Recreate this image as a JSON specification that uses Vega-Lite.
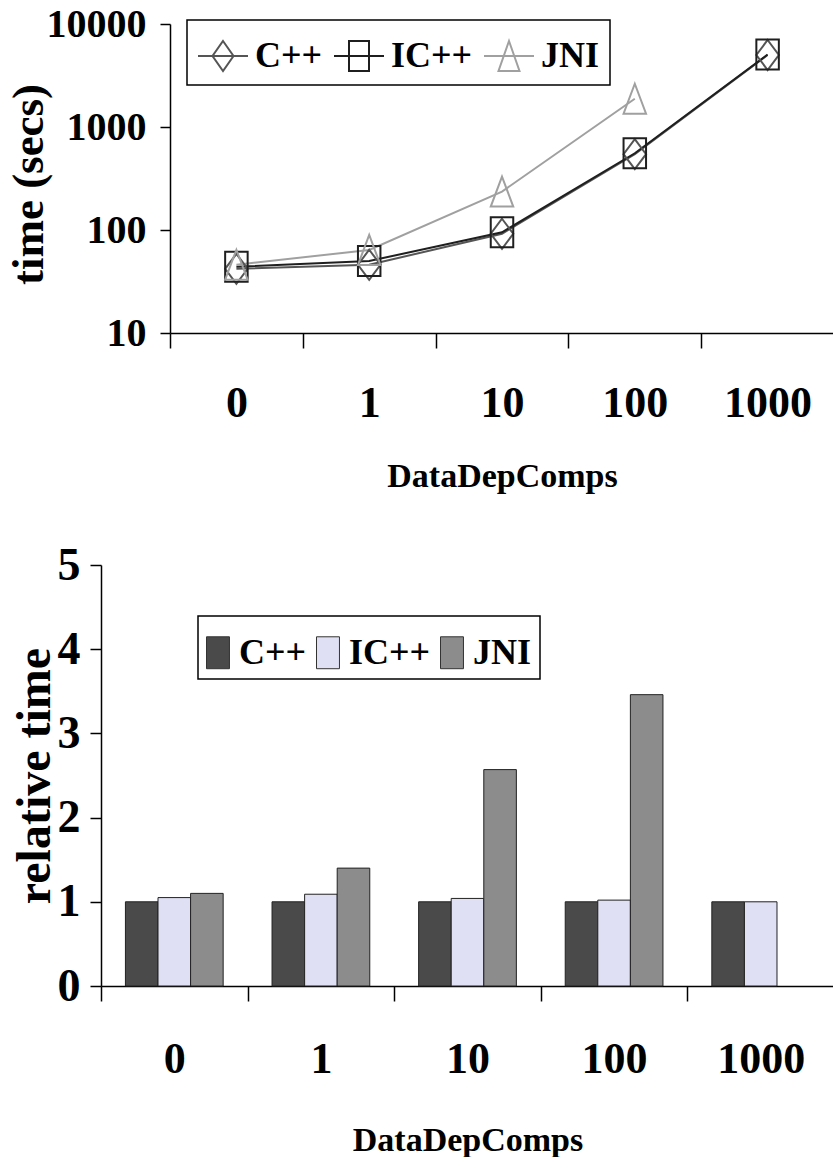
{
  "$schema": "https://vega.github.io/schema/vega-lite/v6.json",
  "padding": {"left": 6, "top": 4, "right": 0, "bottom": 0},
  "background": "white",
  "datasets": {
    "times": [
      {"comps": "0", "series": "C++", "time": 42},
      {"comps": "1", "series": "C++", "time": 46},
      {"comps": "10", "series": "C++", "time": 92},
      {"comps": "100", "series": "C++", "time": 545},
      {"comps": "1000", "series": "C++", "time": 5000},
      {"comps": "0", "series": "IC++", "time": 44},
      {"comps": "1", "series": "IC++", "time": 50},
      {"comps": "10", "series": "IC++", "time": 95},
      {"comps": "100", "series": "IC++", "time": 556},
      {"comps": "1000", "series": "IC++", "time": 5050},
      {"comps": "0", "series": "JNI", "time": 46},
      {"comps": "1", "series": "JNI", "time": 64},
      {"comps": "10", "series": "JNI", "time": 236},
      {"comps": "100", "series": "JNI", "time": 1880}
    ],
    "relative": [
      {"comps": "0", "series": "C++", "rel": 1.0},
      {"comps": "0", "series": "IC++", "rel": 1.05},
      {"comps": "0", "series": "JNI", "rel": 1.10},
      {"comps": "1", "series": "C++", "rel": 1.0},
      {"comps": "1", "series": "IC++", "rel": 1.09},
      {"comps": "1", "series": "JNI", "rel": 1.40},
      {"comps": "10", "series": "C++", "rel": 1.0},
      {"comps": "10", "series": "IC++", "rel": 1.04},
      {"comps": "10", "series": "JNI", "rel": 2.57},
      {"comps": "100", "series": "C++", "rel": 1.0},
      {"comps": "100", "series": "IC++", "rel": 1.02},
      {"comps": "100", "series": "JNI", "rel": 3.46},
      {"comps": "1000", "series": "C++", "rel": 1.0},
      {"comps": "1000", "series": "IC++", "rel": 1.0}
    ]
  },
  "spacing": 49,
  "resolve": {"scale": {"color": "independent"}, "legend": {"color": "independent"}},
  "vconcat": [
    {
      "width": 664,
      "height": 309,
      "data": {"name": "times"},
      "encoding": {
        "x": {"field": "comps", "type": "ordinal", "sort": ["0", "1", "10", "100", "1000"],
          "scale": {"type": "band", "paddingInner": 0, "paddingOuter": 0},
          "axis": {"title": "DataDepComps", "labelAngle": 0, "tickBand": "extent", "tickSize": 15, "labelPadding": 33, "titlePadding": 34, "labelFontSize": 44, "titleFontSize": 34}},
        "y": {"field": "time", "type": "quantitative", "scale": {"type": "log", "domain": [10, 10000]},
          "axis": {"title": "time (secs)", "values": [10, 100, 1000, 10000], "format": "d", "tickSize": 10, "labelPadding": 14, "labelFontSize": 40, "titleFontSize": 45, "titlePadding": -5, "titleY": 160}}
      },
      "layer": [
        {
          "mark": {"type": "line", "strokeWidth": 2},
          "encoding": {
            "color": {"field": "series", "type": "nominal",
              "scale": {"domain": ["C++", "IC++", "JNI"], "range": ["#555555", "#1f1f1f", "#a0a0a0"]},
              "legend": {
                "title": null, "orient": "none", "legendX": 17, "legendY": -4, "direction": "horizontal", "columns": 3,
                "symbolType": "M-1,0H1", "symbolSize": 2500, "symbolStrokeWidth": 2, "labelFontSize": 36, "labelFont": "Liberation Serif", "labelFontWeight": "bold", "labelColor": "black",
                "labelOffset": 6, "columnPadding": 7, "padding": 10, "strokeColor": "black",
                "encode": {
                  "symbols": {"update": {
                    "shape": {"signal": "datum.value === 'C++' ? 'M-1,0H1M0,-0.6L0.42,0L0,0.6L-0.42,0Z' : datum.value === 'IC++' ? 'M-1,0H1M-0.4,-0.6H0.4V0.6H-0.4Z' : 'M-1,0H1M0,-0.6L0.42,0.6L-0.42,0.6Z'"},
                    "fill": {"value": "transparent"},
                    "strokeWidth": {"value": 2}
                  }},
                  "legend": {"update": {"strokeWidth": {"value": 1.5}}}
                }
              }}
          }
        },
        {
          "transform": [{"filter": "datum.series === 'C++'"}],
          "mark": {"type": "point", "filled": false, "strokeWidth": 2, "size": 900, "opacity": 1, "shape": "M0,-1L0.75,0L0,1L-0.75,0Z"},
          "encoding": {"color": {"field": "series", "type": "nominal", "legend": null}}
        },
        {
          "transform": [{"filter": "datum.series === 'IC++'"}],
          "mark": {"type": "point", "filled": false, "strokeWidth": 2, "size": 900, "opacity": 1, "shape": "M-0.75,-1H0.75V1H-0.75Z"},
          "encoding": {"color": {"field": "series", "type": "nominal", "legend": null}}
        },
        {
          "transform": [{"filter": "datum.series === 'JNI'"}],
          "mark": {"type": "point", "filled": false, "strokeWidth": 2, "size": 900, "opacity": 1, "shape": "M0,-1L0.75,1L-0.75,1Z"},
          "encoding": {"color": {"field": "series", "type": "nominal", "legend": null}}
        }
      ]
    },
    {
      "width": 664,
      "height": 421,
      "data": {"name": "relative"},
      "mark": {"type": "bar", "stroke": "#222222", "strokeWidth": 1},
      "encoding": {
        "x": {"field": "comps", "type": "ordinal", "sort": ["0", "1", "10", "100", "1000"],
          "scale": {"paddingInner": 0, "paddingOuter": 0, "range": [-69, 664]},
          "axis": {"title": "DataDepComps", "labelAngle": 0, "tickBand": "extent", "tickSize": 15, "labelPadding": 36, "titlePadding": 42, "labelFontSize": 44, "titleFontSize": 34}},
        "xOffset": {"field": "series", "type": "nominal", "sort": ["C++", "IC++", "JNI"], "scale": {"paddingInner": 0, "paddingOuter": 0.75}},
        "y": {"field": "rel", "type": "quantitative", "scale": {"domain": [0, 5]},
          "axis": {"title": "relative time", "offset": 69, "values": [0, 1, 2, 3, 4, 5], "format": "d", "tickSize": 11, "labelPadding": 10, "labelFontSize": 46, "titleFontSize": 48, "titlePadding": -2}},
        "color": {"field": "series", "type": "nominal",
          "scale": {"domain": ["C++", "IC++", "JNI"], "range": ["#4a4a4a", "#e0e0f5", "#8c8c8c"]},
          "legend": {
            "title": null, "orient": "none", "legendX": 28, "legendY": 51, "direction": "horizontal", "columns": 3,
            "symbolType": "M-1,-0.57H-0.18V0.57H-1Z", "symbolSize": 3136, "symbolStrokeColor": "#333333", "symbolStrokeWidth": 1,
            "labelFontSize": 36, "labelFont": "Liberation Serif", "labelFontWeight": "bold", "labelColor": "black",
            "labelOffset": -24, "columnPadding": 7, "padding": 8, "strokeColor": "black",
            "encode": {"legend": {"update": {"strokeWidth": {"value": 1.5}}}}
          }}
      }
    }
  ],
  "config": {
    "font": "Liberation Serif",
    "view": {"stroke": null},
    "axis": {
      "labelFont": "Liberation Serif", "labelFontWeight": "bold", "labelColor": "black",
      "titleFont": "Liberation Serif", "titleFontWeight": "bold", "titleColor": "black",
      "domainColor": "black", "tickColor": "black", "domainWidth": 1.5, "tickWidth": 1.5, "grid": false
    }
  }
}
